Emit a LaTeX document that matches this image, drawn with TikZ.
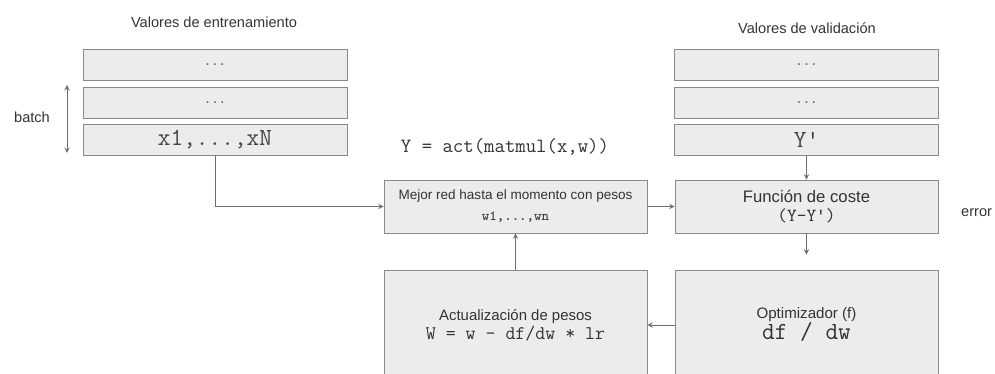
\documentclass[tikz,border=0pt]{standalone}
\usepackage{fontspec}
\setmainfont{Liberation Sans}
\usetikzlibrary{positioning}

\definecolor{borde}{HTML}{8A8A8A}
\definecolor{relleno}{HTML}{ECECEC}
\definecolor{texto}{HTML}{333333}

\begin{document}
\begin{tikzpicture}[x=0.02cm, y=-0.02cm,
    fila/.style={draw=borde, fill=relleno, minimum width=5.28cm, minimum height=0.62cm, inner sep=0pt},
    caja/.style={draw=borde, fill=relleno, minimum width=5.26cm, minimum height=1.06cm, inner sep=0pt, align=center, text=texto},
    cajagrande/.style={caja, minimum height=2.2cm},
    titulo/.style={font=\fontsize{8.3}{10}\selectfont, text=texto},
    puntos/.style={font=\ttfamily\fontsize{8}{9}\selectfont, text=texto!80},
    dato/.style={font=\ttfamily\fontsize{14}{16}\selectfont, text=texto!90},
    flecha/.style={->, >=stealth, draw=borde!80!black}]
    \useasboundingbox (0,0) rectangle (995,374);

    % datos de entrenamiento
    \node[titulo] (entrena) at (214,22) {Valores de entrenamiento};
    \node[fila, puntos] (ent1) at (215,64.5) {...};
    \node[fila, puntos] (ent2) at (215,102.5) {...};
    \node[fila, dato] (xs) at (215,139.5) {x1,...,xN};
    \node[titulo] (batch) at (32,117) {batch};
    \coordinate (batcharriba) at (67,85);
    \coordinate (batchabajo) at (67,153);
    \draw[<->, >=stealth, draw=borde!80!black] (batcharriba) -- (batchabajo);

    % datos de validacion
    \node[titulo] (valida) at (807,28) {Valores de validación};
    \node[fila, puntos] (val1) at (806.5,64.5) {...};
    \node[fila, puntos] (val2) at (806.5,102.5) {...};
    \node[fila, dato] (yp) at (806.5,139.5) {Y'};

    % red
    \node[font=\ttfamily\fontsize{11.5}{13}\selectfont, text=texto] (act) at (505,147) {Y = act(matmul(x,w))};
    \node[caja] (mejor) at (515.5,206.5) {{\fontsize{7.7}{9}\selectfont Mejor red hasta el momento con pesos}\\[0pt]
        {\ttfamily\fontsize{8}{9}\selectfont w1,...,wn}};
    \node[caja] (coste) at (806.5,206.5) {{\fontsize{9.5}{11}\selectfont Función de coste}\\[-1pt]
        {\ttfamily\fontsize{10.5}{11}\selectfont (Y-Y')}};
    \node[titulo, anchor=west] (error) at (955,213) {error};

    % entrenamiento
    \node[cajagrande] (actual) at (515.5,325) {{\fontsize{8.5}{10}\selectfont Actualización de pesos}\\[-1pt]
        {\ttfamily\fontsize{11}{12}\selectfont W = w - df/dw * lr}};
    \node[cajagrande] (optim) at (806.5,325) {{\fontsize{8.6}{10}\selectfont Optimizador (f)}\\[0pt]
        {\ttfamily\fontsize{14}{15}\selectfont df / dw}};

    \draw[flecha] (xs.south) |- (mejor.west);
    \draw[flecha] (mejor.east) -- (coste.west);
    \draw[flecha] (yp.south) -- (coste.north);
    \draw[flecha, shorten >=0.3cm] (coste.south) -- (optim.north);
    \draw[flecha] (optim.west) -- (actual.east);
    \draw[flecha] (actual.north) -- (mejor.south);
\end{tikzpicture}
\end{document}
